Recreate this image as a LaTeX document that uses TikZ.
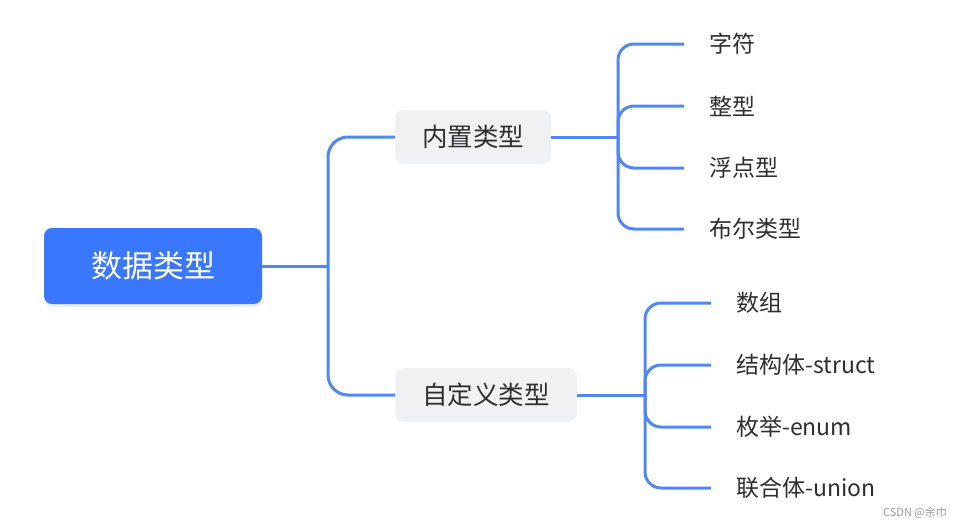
\documentclass[tikz,border=0pt]{standalone}
\usepackage{fontspec}
\setmainfont{Noto Sans CJK SC}
\usetikzlibrary{shadows}
\definecolor{rootBlue}{HTML}{3A77FF}
\definecolor{linkBlue}{HTML}{4F87F6}
\definecolor{branchGray}{HTML}{F0F1F3}
\definecolor{textGray}{HTML}{2E2E2E}
\definecolor{markGray}{HTML}{9A9A9A}

\begin{document}
\begin{tikzpicture}[x = 1pt, y = -1pt]
	\tikzstyle{rootStyle} = [shape = rectangle, rounded corners = 8pt, fill = rootBlue, text = white, font = \fontsize{31}{37}\selectfont, minimum width = 218pt, minimum height = 76pt, drop shadow = {shadow xshift = 0pt, shadow yshift = -3pt, opacity = 0.12, fill = rootBlue}]
	\tikzstyle{branchStyle} = [shape = rectangle, rounded corners = 8pt, fill = branchGray, text = textGray, font = \fontsize{25.5}{30}\selectfont, inner xsep = 27pt, minimum height = 54pt]
	\tikzstyle{leafStyle} = [anchor = west, inner sep = 0pt, text = textGray, font = \fontsize{23}{27}\selectfont]
	\tikzstyle{linkStyle} = [draw = linkBlue, line width = 3pt, rounded corners = 16pt]
	\tikzstyle{markStyle} = [text = markGray, font = \fontsize{11}{13}\selectfont]
	\useasboundingbox (0, 0) rectangle (963, 528);
	\node[rootStyle] (root) at (153, 266) {数据类型};
	\node[branchStyle] (builtin) at (473, 137) {内置类型};
	\node[branchStyle] (custom) at (486, 395) {自定义类型};
	\node[leafStyle] (char) at (709, 44) {字符};
	\node[leafStyle] (int) at (709, 106) {整型};
	\node[leafStyle] (float) at (709, 168) {浮点型};
	\node[leafStyle] (bool) at (709, 229) {布尔类型};
	\node[leafStyle] (array) at (736, 303) {数组};
	\node[leafStyle] (struct) at (736, 365) {结构体-struct};
	\node[leafStyle] (enum) at (736, 427) {枚举-enum};
	\node[leafStyle] (union) at (736, 488) {联合体-union};
	\node[markStyle] (mark) at (915, 513) {CSDN @余巾};
	\coordinate (rootJoint) at (328, 266);
	\coordinate (builtinJoint) at (618, 137);
	\coordinate (customJoint) at (645, 395);
	\draw[linkStyle] (root.east) -- (rootJoint);
	\draw[linkStyle, rounded corners = 20pt] (rootJoint) |- (builtin.west);
	\draw[linkStyle, rounded corners = 20pt] (rootJoint) |- (custom.west);
	\draw[linkStyle] (builtin.east) -- (builtinJoint);
	\draw[linkStyle] (custom.east) -- (customJoint);
	\foreach \leaf in {char, int, float, bool}
		\draw[linkStyle] (builtinJoint) |- ([xshift = -25pt]\leaf.west);
	\foreach \leaf in {array, struct, enum, union}
		\draw[linkStyle] (customJoint) |- ([xshift = -25pt]\leaf.west);
\end{tikzpicture}
\end{document}
